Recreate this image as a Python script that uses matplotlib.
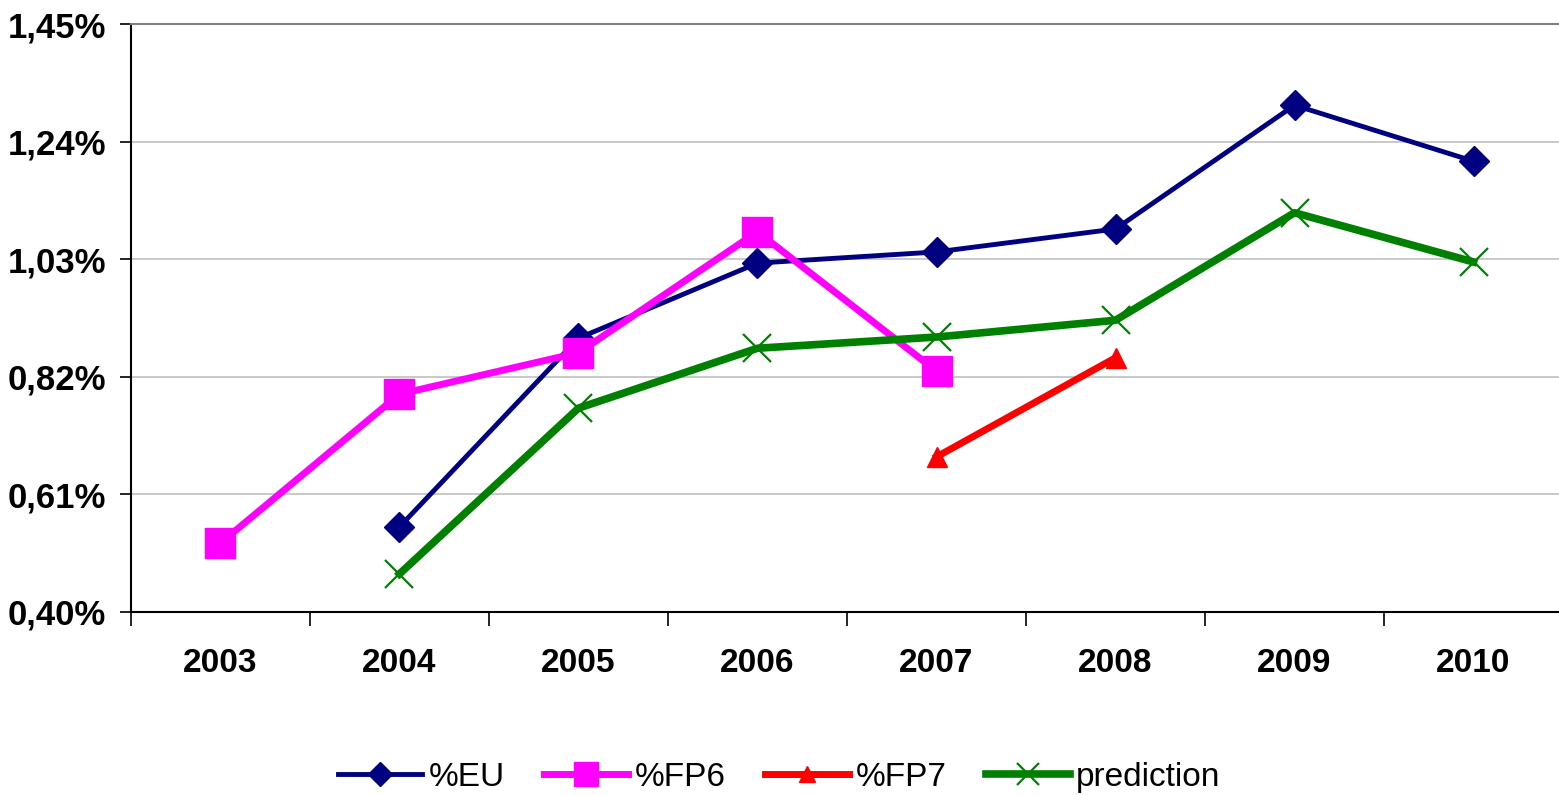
import numpy as np
import matplotlib
matplotlib.use("Agg")
import matplotlib.pyplot as plt
from matplotlib.ticker import FixedLocator

plt.rcParams["font.family"] = ["Liberation Sans", "DejaVu Sans"]

years = ["2003", "2004", "2005", "2006", "2007", "2008", "2009", "2010"]
eu = [np.nan, 0.552, 0.889, 1.023, 1.043, 1.084, 1.305, 1.205]
fp6 = [0.523, 0.789, 0.863, 1.079, 0.830, np.nan, np.nan, np.nan]
fp7 = [np.nan, np.nan, np.nan, np.nan, 0.677, 0.854, np.nan, np.nan]
prediction = [np.nan, 0.468, 0.764, 0.871, 0.891, 0.921, 1.113, 1.025]
y_ticks = [0.40, 0.61, 0.82, 1.03, 1.24, 1.45]

fig = plt.figure(figsize=(15.59, 7.95), dpi=100)
ax = fig.add_axes([0.084, 0.2302, 0.9186, 0.7396])
x = np.arange(len(years))

ax.plot(x, eu, color="#000080", lw=3.5, marker="D", ms=15, label="%EU", zorder=3)
ax.plot(x, fp6, color="#FF00FF", lw=5, marker="s", ms=22, label="%FP6", zorder=3)
ax.plot(x, fp7, color="#FF0000", lw=5, marker="^", ms=14, label="%FP7", zorder=3)
ax.plot(x, prediction, color="#008000", lw=5.5, marker="x", ms=20, mew=1.6,
        label="prediction", zorder=3)

ax.set_xlim(-0.5, len(years) - 0.5)
ax.set_ylim(y_ticks[0], y_ticks[-1])
ax.set_yticks(y_ticks)
ax.set_yticklabels([f"{v:.2f}%".replace(".", ",") for v in y_ticks],
                   fontsize=25, fontweight="bold")
ax.yaxis.grid(True, color="#c0c0c0", lw=1.2)
ax.set_axisbelow(True)

ax.set_xticks(x)
ax.set_xticklabels(years, fontsize=24, fontweight="bold")
ax.xaxis.set_minor_locator(FixedLocator(np.arange(-0.5, len(years), 1)))
ax.tick_params(axis="x", which="major", length=0, pad=26)
ax.tick_params(axis="x", which="minor", length=10, width=1.2, direction="out")
ax.tick_params(axis="y", length=8, width=1.2, direction="out", pad=10)

for side in ["left", "bottom"]:
    ax.spines[side].set_linewidth(1.5)
ax.spines["top"].set_color("#808080")
ax.spines["top"].set_linewidth(1.5)
ax.spines["right"].set_visible(False)

ax.legend(loc="center", bbox_to_anchor=(0.5, 0.022), bbox_transform=fig.transFigure,
          ncol=4, frameon=False, fontsize=24, handlelength=2.5, columnspacing=1.2,
          handletextpad=0.2, markerscale=0.8)

fig.savefig("out.png", dpi=100)
